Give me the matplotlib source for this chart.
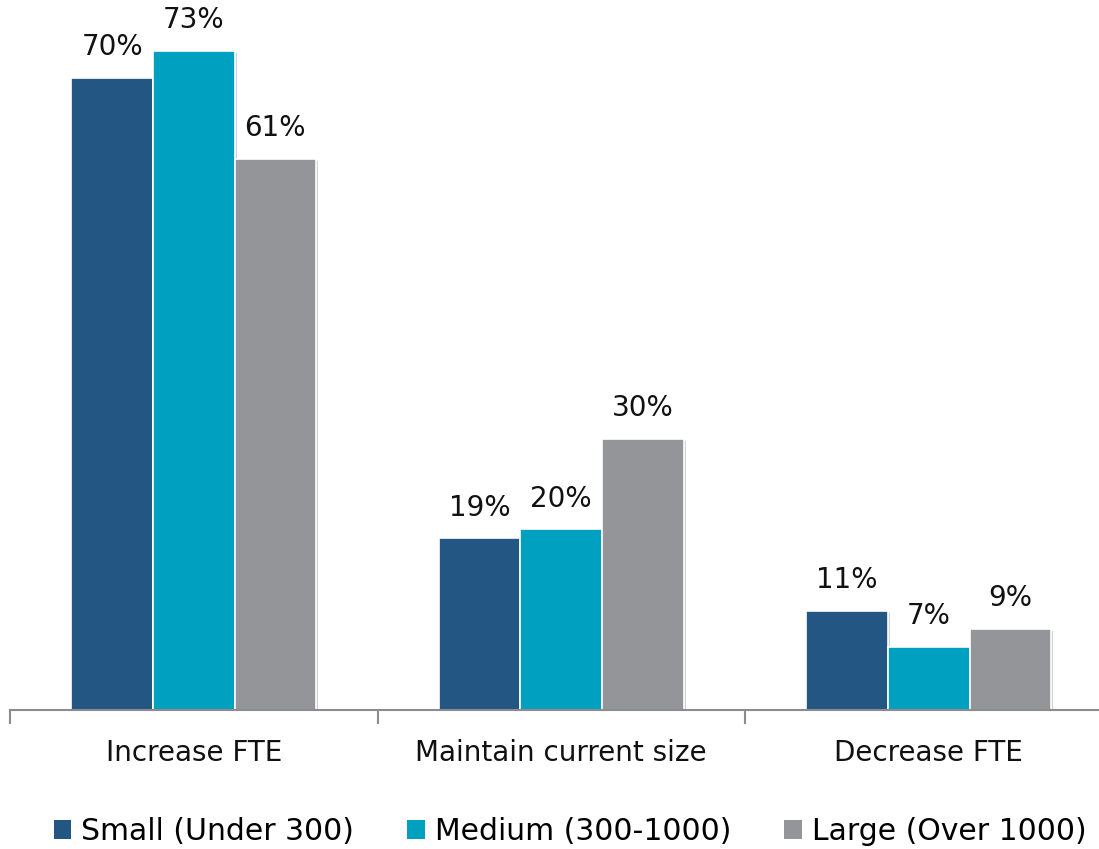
import matplotlib
matplotlib.use("Agg")
import matplotlib.pyplot as plt
import matplotlib.patheffects as pe
from matplotlib.patches import Patch
import numpy as np

plt.rcParams['font.family'] = ['DejaVu Sans']

categories = ["Increase FTE", "Maintain current size", "Decrease FTE"]
series_names = ["Small (Under 300)", "Medium (300-1000)", "Large (Over 1000)"]
small = [70, 19, 11]
medium = [73, 20, 7]
large = [61, 30, 9]
colors = ["#245683", "#00A0C0", "#939598"]

W, H = 1099, 849
fig = plt.figure(figsize=(W / 100, H / 100), dpi=100)
ax = fig.add_axes([10 / W, (H - 710) / H, 1102.5 / W, 710 / H])

x = np.arange(len(categories))
bw = 0.222
shadow = [pe.SimplePatchShadow(offset=(1.5, -1.5), shadow_rgbFace="#000000", alpha=0.18), pe.Normal()]
for i, (vals, name, col) in enumerate(zip([small, medium, large], series_names, colors)):
    pos = x + (i - 1) * bw
    bars = ax.bar(pos, vals, width=bw, color=col, edgecolor="white", linewidth=1.2,
                  label=name, zorder=2)
    for b in bars:
        b.set_path_effects(shadow)
    for p, v in zip(pos, vals):
        ax.annotate(f"{v}%", (p, v), xytext=(0, 12), textcoords="offset points",
                    ha="center", va="bottom", fontsize=20, color="#111111")

ax.set_xlim(-0.5, len(categories) - 0.5)
ax.set_ylim(0, 78.6)
for s in ["top", "right", "left"]:
    ax.spines[s].set_visible(False)
ax.spines["bottom"].set_color("#8c8c8c")
ax.spines["bottom"].set_linewidth(1.5)
ax.set_yticks([])
ax.set_xticks(x)
ax.set_xticklabels(categories, fontsize=20, color="#111111")
ax.tick_params(axis="x", which="major", length=0, pad=21)
ax.set_xticks(np.arange(-0.5, len(categories) + 0.5, 1), minor=True)
ax.tick_params(axis="x", which="minor", length=10, width=1.5, color="#8c8c8c", direction="out")

handles = [Patch(facecolor=c, edgecolor="none") for c in colors]
fig.legend(handles, series_names, loc="center", bbox_to_anchor=(570 / W, (H - 832) / H),
           ncol=3, frameon=False, fontsize=21.5, handlelength=0.6, handleheight=0.6,
           handletextpad=0.33, columnspacing=1.77, borderaxespad=0, borderpad=0)

fig.savefig("out.png", dpi=100)
